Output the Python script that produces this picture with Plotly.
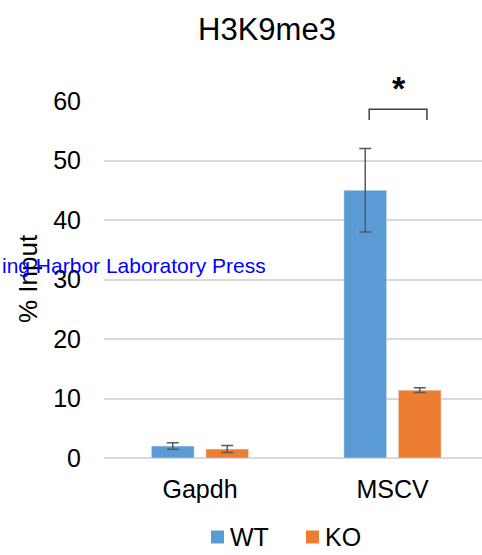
import plotly.graph_objects as go

# ChIP-qPCR enrichment (% input) for H3K9me3
categories = ["Gapdh", "MSCV"]
wt_values = [2.0, 45.0]
wt_errors = [0.55, 7.0]
ko_values = [1.5, 11.4]
ko_errors = [0.58, 0.4]
y_ticks = [0, 10, 20, 30, 40, 50, 60]

WT_COLOR = "#5B9BD5"
KO_COLOR = "#ED7D31"
FONT = "Liberation Sans, Arial, sans-serif"
W, H = 482, 555
L, R, T, B = 104, 0, 101, 97
plot_w = W - L - R
plot_h = H - T - B

def px_x(px):
    return (px - L) / plot_w

def px_y(px):
    return (H - B - px) / plot_h

err_style = dict(type="data", thickness=1.5, width=6, color="#595959")

fig = go.Figure()
fig.add_trace(go.Bar(
    name="WT", x=categories, y=wt_values,
    marker_color=WT_COLOR, showlegend=False,
    error_y=dict(array=wt_errors, **err_style),
))
fig.add_trace(go.Bar(
    name="KO", x=categories, y=ko_values,
    marker_color=KO_COLOR, showlegend=False,
    error_y=dict(array=ko_errors, **err_style),
))

# significance bracket between WT and KO at MSCV
fig.add_shape(
    type="path", xref="x", yref="y",
    path="M 0.879 56.8 L 0.879 58.6 L 1.179 58.6 L 1.179 56.8",
    line=dict(color="#404040", width=1.5),
)
fig.add_annotation(
    x=1.036, y=px_y(88), xref="x", yref="paper", text="<b>*</b>",
    showarrow=False, yanchor="middle", xanchor="center",
    font=dict(family=FONT, size=34, color="black"),
)

# y-axis title
fig.add_annotation(
    x=px_x(28), y=px_y(279), xref="paper", yref="paper",
    text="% Input", textangle=-90, showarrow=False,
    xanchor="center", yanchor="middle",
    font=dict(family=FONT, size=26, color="black"),
)

# publisher imprint
fig.add_annotation(
    x=px_x(0), y=px_y(265), xref="paper", yref="paper",
    text="ing Harbor Laboratory Press", showarrow=False,
    xanchor="left", yanchor="middle",
    font=dict(family=FONT, size=21, color="#0000FF"),
)

# legend: colour swatch followed by series name
legend_items = [("WT", WT_COLOR, 211), ("KO", KO_COLOR, 306)]
for name, color, left in legend_items:
    fig.add_shape(
        type="rect", xref="paper", yref="paper",
        x0=px_x(left), x1=px_x(left + 13),
        y0=px_y(543.5), y1=px_y(530.5),
        fillcolor=color, line=dict(width=0),
    )
    fig.add_annotation(
        x=px_x(left + 17), y=px_y(537), xref="paper", yref="paper",
        text=name, showarrow=False, xanchor="left", yanchor="middle",
        font=dict(family=FONT, size=25, color="black"),
    )

fig.update_layout(
    width=W, height=H,
    margin=dict(l=L, r=R, t=T, b=B, pad=0),
    paper_bgcolor="white", plot_bgcolor="white",
    barmode="group", bargap=0.434, bargroupgap=0.216,
    title=dict(
        text="H3K9me3", x=267 / W, xanchor="center",
        y=1 - 29 / H, yanchor="middle", yref="container", xref="container",
        font=dict(family=FONT, size=31, color="black"),
    ),
    font=dict(family=FONT, color="black"),
    showlegend=False,
    xaxis=dict(
        type="category", range=[-0.4987, 1.465],
        showgrid=False, showline=False, zeroline=False,
        ticks="", ticklabelstandoff=14,
        tickfont=dict(family=FONT, size=25, color="black"),
    ),
    yaxis=dict(
        range=[0, 60], tickvals=y_ticks,
        showgrid=True, gridcolor="#D9D9D9", gridwidth=1.5,
        zeroline=True, zerolinecolor="#D9D9D9", zerolinewidth=2,
        showline=False, ticks="", ticklabelstandoff=22,
        tickfont=dict(family=FONT, size=25, color="black"),
    ),
)

fig.write_html("out.html")
